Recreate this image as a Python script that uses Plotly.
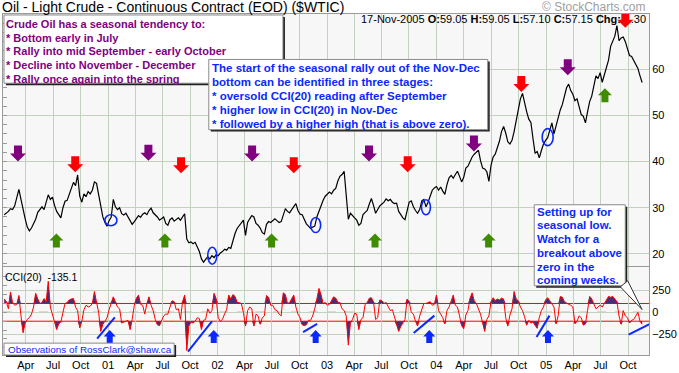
import plotly.graph_objects as go
import pandas as pd

# ---------------- data ----------------
dates = pd.date_range("2000-01-20", periods=305, freq="7D")

price = [
    28.5, 28.8, 29.2, 29.8, 29.6, 30.4, 32.5, 34.0, 31.8, 29.5,
    27.6, 25.8, 25.0, 25.6, 26.4, 27.5, 29.0, 29.7, 30.2, 29.6,
    31.5, 32.8, 31.8, 32.3, 30.5, 29.2, 28.5, 27.8, 30.0, 31.4,
    31.6, 33.0, 34.0, 35.5, 34.8, 37.1, 32.5, 31.2, 33.0, 32.4,
    33.5, 33.0, 33.8, 35.6, 35.3, 33.0, 30.2, 28.0, 26.8, 26.0,
    27.2, 28.0, 31.8, 30.2, 29.6, 30.0, 28.7, 28.4, 28.8, 28.0,
    27.2, 26.4, 27.0, 27.8, 28.3, 27.9, 28.6, 28.9, 28.5, 29.4,
    29.9, 28.9, 28.5, 28.0, 27.3, 27.6, 28.0, 26.6, 26.2, 27.4,
    27.8, 27.1, 27.4, 27.8, 27.3, 28.0, 28.7, 23.2, 22.4, 22.6,
    22.2, 22.5, 21.4, 20.5, 18.9, 18.2, 18.8, 19.4, 18.9, 19.6,
    19.2, 19.8, 19.6, 20.2, 20.5, 21.0, 20.8, 21.4, 21.2, 23.0,
    24.4, 25.5, 26.2, 26.8, 27.3, 24.0, 26.8, 27.6, 28.3, 28.0,
    26.6, 26.2, 25.6, 24.6, 24.3, 26.4, 27.0, 26.8, 27.3, 27.6,
    27.2, 26.8, 27.0, 28.6, 29.8, 29.2, 28.9, 29.6, 30.3, 30.9,
    29.4, 28.6, 28.5, 27.3, 26.5, 26.0, 25.5, 25.8, 26.0, 28.0,
    29.3, 30.2, 31.6, 32.5, 32.9, 33.4, 33.0, 33.8, 34.2, 35.8,
    36.8, 37.2, 37.9, 33.0, 27.5, 28.8, 28.2, 27.8, 27.3, 26.2,
    26.6, 28.5, 29.0, 29.4, 30.8, 32.0, 30.5, 28.8, 29.6, 30.4,
    30.8, 31.2, 31.9, 31.5, 31.8, 31.2, 30.9, 31.0, 29.2, 28.5,
    27.8, 27.4, 29.2, 31.2, 31.5, 30.2, 29.4, 28.8, 29.6, 31.5,
    31.8, 30.2, 31.2, 32.5, 33.8, 34.3, 34.6, 33.8, 34.5, 33.6,
    32.9, 35.0, 36.5, 37.0, 36.4, 37.2, 37.9, 36.8, 35.6, 36.6,
    38.6, 39.0, 40.0, 41.0, 41.6, 42.0, 42.5, 40.2, 38.6, 38.4,
    37.8, 35.7, 39.2, 41.0, 41.6, 43.0, 44.4, 46.5, 47.6, 46.2,
    44.3, 43.8, 44.6, 46.5, 49.0, 50.8, 53.6, 54.8, 52.4, 50.8,
    49.2, 48.5, 45.0, 41.8, 42.2, 40.8, 42.4, 43.8, 44.6, 45.2,
    46.8, 48.4, 46.0, 47.8, 49.6, 51.2, 52.4, 54.2, 56.0, 56.8,
    55.4, 54.6, 53.2, 53.6, 51.8, 50.2, 49.8, 48.4, 50.8, 53.0,
    54.2, 56.5, 58.6, 58.0, 59.3, 57.2, 59.0, 60.5, 62.0, 65.0,
    66.2, 67.2, 69.5, 66.2, 66.8, 67.0, 66.0, 64.5, 63.0, 62.8,
    62.0, 61.0, 60.2, 58.6, 57.15,
]

cci = [
    150, 120, 40, 230, 110, 80, 90, 190, -40, -230,
    -120, -80, -60, -20, 60, 215, 150, 100, 110, 155,
    120, 350, 60, -20, -100, -195, -130, -110, 0, 100,
    110, 140, 150, 155, 60, 20, -175, -100, 30, 80,
    60, 70, 100, 235, 115, 0, -215, -135, -100, -60,
    30, 115, 175, 120, 60, 40, -120, -110, -100, -90,
    -195, -80, 80, 160, 195, 90, 80, -20, 100, 175,
    80, 20, -80, -140, -150, -100, -40, -20, -20, 60,
    130, 120, 30, 40, -80, 120, 195, -430, -155, -110,
    -120, -100, -60, -70, -195, -90, -80, 40, -10, 20,
    215, 155, -60, -100, -80, -20, 30, 195, 150, 200,
    180, 115, 110, 100, 0, -155, 20, 60, 40, -155,
    -20, -40, -135, -60, -40, 190, 170, 80, 80, 30,
    20, -20, -40, 220, 200, 100, 110, 150, 195, 60,
    -20, -60, -140, -150, -140, -90, -90, -40, 40, 150,
    270, 200, 100, 110, 80, 90, 130, 175, 160, 115,
    110, 40, 20, -40, -370, -120, -80, -10, -20, -195,
    -80, -60, 90, 110, 160, 165, 120, -80, -60, 140,
    130, 100, 110, 60, 20, 30, -60, -150, -215, -160,
    -115, -80, 150, 120, 0, -20, -100, -155, -40, 40,
    100, 100, 110, 120, 80, 90, 195, 20, -20, -60,
    -130, 20, 60, 120, 195, 80, 60, -40, -150, -185,
    -30, 20, 160, 220, 130, 100, 40, -20, -120, -215,
    -80, -40, 120, 165, 130, 150, 140, 160, 150, -60,
    -155, -30, 40, 235, 150, 130, 60, 20, -50, -145,
    -90, -120, -110, -150, -180, -60, 20, 60, 140, 165,
    130, 100, 60, -130, -40, 180, 170, 120, 100, 90,
    80, 60, -130, -100, -40, -60, -145, -130, 20, 180,
    150, 100, 40, 60, 80, 60, 100, 140, 180, 170,
    180, 150, 120, -40, -135, 20, -40, -60, -120, -90,
    -80, -40, 0, -100, -135.1,
]

quarter_ticks = pd.date_range("2000-04-01", "2005-10-01", freq="QS")
tick_labels = ["Apr", "Jul", "Oct",
               "01", "Apr", "Jul", "Oct",
               "02", "Apr", "Jul", "Oct",
               "03", "Apr", "Jul", "Oct",
               "04", "Apr", "Jul", "Oct",
               "05", "Apr", "Jul", "Oct"]
price_ticks = [20, 30, 40, 50, 60]
cci_ticks = [-250, 0, 250]
cci_bands = [100, -100]

# seasonal markers (date, price level of the arrow tip)
purple_dates = ["2000-03-06", "2001-05-15", "2002-04-26", "2003-05-21", "2004-05-05", "2005-03-14"]
purple_levels = [40.0, 40.2, 40.0, 40.0, 42.2, 58.7]
red_dates = ["2000-09-13", "2001-09-01", "2002-09-12", "2003-09-27", "2004-10-10", "2005-09-22"]
red_levels = [37.7, 37.5, 37.5, 37.7, 55.1, 69.0]
green_dates = ["2000-07-12", "2001-07-09", "2002-06-30", "2003-06-10", "2004-06-23", "2005-07-16"]
green_levels = [24.4, 24.4, 24.4, 24.4, 24.4, 55.9]
circle_dates = ["2001-01-10", "2001-12-14", "2002-11-24", "2003-11-27", "2005-01-06"]
circle_levels = [27.3, 19.6, 26.25, 30.1, 45.3]
blue_arrow_dates = ["2001-01-06", "2001-12-19", "2002-11-24", "2003-12-08", "2005-01-07"]
blue_arrow_levels = [-200, -200, -200, -200, -200]
trend_start_dates = ["2000-11-25", "2001-09-24", "2002-10-13", "2003-10-17", "2004-11-30", "2005-10-03"]
trend_start_levels = [-297, -444, -222, -233, -278, -252]
trend_end_dates = ["2001-01-23", "2001-12-13", "2002-11-29", "2003-12-25", "2005-01-12", "2005-12-13"]
trend_end_levels = [-56, -103, -130, -37, -37, -130]

# ---------------- styling ----------------
FONT = "Arial, 'Liberation Sans', sans-serif"
GRID = "#c3d2bf"
BORDER = "#9a9a9a"
PLOT_BG = "#f7f7f7"
PURPLE = "#800080"
RED = "#ff0000"
GREEN = "#3f8c00"
BLUE = "#0a28ff"
X_RANGE = ["2000-01-16", "2005-12-10"]
Y_RANGE = [17.36, 72.0]
CCI_RANGE = [-481, 511]

W, H = 679, 373
L, R, T, B = 2, 24, 14, 14
PW, PH = W - L - R, H - T - B


def fx(p):
    return (p - L) / PW


def fy(p):
    return (H - B - p) / PH


fig = go.Figure()

# price
fig.add_trace(go.Scatter(x=dates, y=price, mode="lines", line=dict(color="black", width=1.2),
                         xaxis="x", yaxis="y", hoverinfo="skip"))
# dummy traces for inner minor-tick axes
fig.add_trace(go.Scatter(x=[dates[0]], y=[price[0]], mode="markers", marker=dict(opacity=0),
                         xaxis="x", yaxis="y3", hoverinfo="skip"))
fig.add_trace(go.Scatter(x=[dates[0]], y=[cci[0]], mode="markers", marker=dict(opacity=0),
                         xaxis="x2", yaxis="y4", hoverinfo="skip"))

# OHLC header text (as trace so arrow shapes can overlap it)
fig.add_trace(go.Scatter(
    x=["2005-11-30"], y=[70.7], mode="text",
    text=["17-Nov-2005 <b>O:</b>59.05 <b>H:</b>59.05 <b>L:</b>57.10 <b>C:</b>57.15 <b>Chg:</b>-1.30"],
    textposition="middle left", textfont=dict(family=FONT, size=11, color="black"),
    xaxis="x", yaxis="y", hoverinfo="skip", cliponaxis=False))

# CCI fills beyond +/-100
hi = [max(v, cci_bands[0]) for v in cci]
lo = [min(v, cci_bands[1]) for v in cci]
FILL = "#4a2c78"
fig.add_trace(go.Scatter(x=dates, y=[cci_bands[0]] * len(dates), mode="lines", line=dict(width=0),
                         xaxis="x2", yaxis="y2", hoverinfo="skip"))
fig.add_trace(go.Scatter(x=dates, y=hi, mode="lines", line=dict(width=0), fill="tonexty",
                         fillcolor=FILL, xaxis="x2", yaxis="y2", hoverinfo="skip"))
fig.add_trace(go.Scatter(x=dates, y=[cci_bands[1]] * len(dates), mode="lines", line=dict(width=0),
                         xaxis="x2", yaxis="y2", hoverinfo="skip"))
fig.add_trace(go.Scatter(x=dates, y=lo, mode="lines", line=dict(width=0), fill="tonexty",
                         fillcolor=FILL, xaxis="x2", yaxis="y2", hoverinfo="skip"))
fig.add_trace(go.Scatter(x=dates, y=cci, mode="lines", line=dict(color=RED, width=1),
                         xaxis="x2", yaxis="y2", hoverinfo="skip"))

shapes = []
# CCI reference lines
for lvl in cci_bands:
    shapes.append(dict(type="line", xref="x2 domain", x0=0, x1=1, yref="y2", y0=lvl, y1=lvl,
                       line=dict(color=RED, width=1), layer="below"))
shapes.append(dict(type="line", xref="x2 domain", x0=0, x1=1, yref="y2", y0=0, y1=0,
                   line=dict(color=RED, width=1, dash="dash"), layer="below"))


def arrow_path(w, h, down=True):
    half, sh, hh = w / 2, w / 4, h / 2
    s = 1 if down else -1
    pts = [(0, 0), (-half, s * hh), (-sh, s * hh), (-sh, s * h), (sh, s * h), (sh, s * hh), (half, s * hh)]
    return "M " + " L ".join(f"{a} {b}" for a, b in pts) + " Z"


def add_arrow(d, lvl, color, down, w, h, xr="x", yr="y"):
    shapes.append(dict(type="path", xref=xr, yref=yr, xsizemode="pixel", ysizemode="pixel",
                       xanchor=d, yanchor=lvl, path=arrow_path(w, h, down),
                       fillcolor=color, line=dict(width=0), layer="above"))


for d, v in zip(purple_dates, purple_levels):
    add_arrow(d, v, PURPLE, True, 16, 16)
for d, v in zip(red_dates, red_levels):
    add_arrow(d, v, RED, True, 16, 16)
for d, v in zip(green_dates, green_levels):
    add_arrow(d, v, GREEN, False, 14, 14)
for d, v in zip(blue_arrow_dates, blue_arrow_levels):
    add_arrow(d, v, BLUE, False, 12, 13, "x2", "y2")

circle_w = [12, 9, 10, 9, 11]
circle_h = [11, 17, 15, 15, 17]
for d, v, cw, ch in zip(circle_dates, circle_levels, circle_w, circle_h):
    shapes.append(dict(type="circle", xref="x", yref="y", xsizemode="pixel", ysizemode="pixel",
                       xanchor=d, yanchor=v, x0=-cw / 2, x1=cw / 2, y0=-ch / 2, y1=ch / 2,
                       line=dict(color=BLUE, width=1.6), layer="above"))

for d0, v0, d1, v1 in zip(trend_start_dates, trend_start_levels, trend_end_dates, trend_end_levels):
    shapes.append(dict(type="line", xref="x2", yref="y2", x0=d0, y0=v0, x1=d1, y1=v1,
                       line=dict(color=BLUE, width=2), layer="above"))


def box(x0, y0, x1, y1):
    shapes.append(dict(type="rect", xref="paper", yref="paper", x0=fx(x0 + 2), x1=fx(x1 + 2),
                       y0=fy(y0 + 2), y1=fy(y1 + 2), fillcolor="#202020", line=dict(width=0),
                       layer="above"))
    shapes.append(dict(type="rect", xref="paper", yref="paper", x0=fx(x0), x1=fx(x1),
                       y0=fy(y0), y1=fy(y1), fillcolor="white", line=dict(color="#8a8a8a", width=1),
                       layer="above"))


box(3, 15, 285, 84)
box(210, 60, 492, 131)
box(539, 207, 631, 289)
# callout pointer
shapes.append(dict(type="path", xref="paper", yref="paper",
                   path=f"M {fx(626)} {fy(290)} L {fx(648)} {fy(313)} L {fx(633.5)} {fy(284)} Z",
                   fillcolor="white", line=dict(color="#303030", width=1), layer="above"))
box(3, 347, 175, 359)

ann = []


def text(x, y, s, size, color, bold=False, anchor="left"):
    ann.append(dict(x=fx(x), y=fy(y), xref="paper", yref="paper", text=f"<b>{s}</b>" if bold else s,
                    showarrow=False, xanchor=anchor, yanchor="middle",
                    font=dict(family=FONT, size=size, color=color)))


text(-1, 7, "Oil - Light Crude - Continuous Contract (EOD) ($WTIC)", 14, "black")
text(654, 7, "© StockCharts.com", 12, "#a0a0a0", anchor="right")

box1 = ["Crude Oil has a seasonal tendency to:", "* Bottom early in July",
        "* Rally into mid September - early October", "* Decline into November - December",
        "* Rally once again into the spring"]
for i, s in enumerate(box1):
    text(3.5, 24 + 13.9 * i, s, 11, PURPLE, bold=True)

box2 = ["The start of the seasonal rally out of the Nov-Dec", "bottom can be identified in three stages:",
        "* oversold CCI(20) reading after September", "* higher low in CCI(20) in Nov-Dec",
        "* followed by a higher high (that is above zero)."]
for i, s in enumerate(box2):
    text(211, 69 + 14 * i, s, 11.5, BLUE, bold=True)

box3 = ["Setting up for", "seasonal low.", "Watch for a", "breakout above", "zero in the", "coming weeks."]
for i, s in enumerate(box3):
    text(539.5, 214 + 13.9 * i, s, 11.5, BLUE, bold=True)

text(2.5, 280, "CCI(20)  -135.1", 10.5, "black")
text(5, 353.5, "Observations of RossClark@shaw.ca", 9.9, BLUE)

axis_common = dict(showline=True, mirror=True, linecolor=BORDER, linewidth=1, zeroline=False,
                   showgrid=True, gridcolor=GRID, gridwidth=1, fixedrange=True)

fig.update_layout(
    width=W, height=H, autosize=False,
    margin=dict(l=L, r=R, t=T, b=B, pad=0),
    paper_bgcolor="white", plot_bgcolor=PLOT_BG,
    showlegend=False, hovermode=False,
    font=dict(family=FONT, size=11, color="black"),
    xaxis=dict(domain=[0, 1], anchor="y", type="date", range=X_RANGE, tickmode="array",
               tickvals=quarter_ticks, showticklabels=False, ticks="", **axis_common),
    yaxis=dict(domain=[0.2609, 1], anchor="x", range=Y_RANGE, side="right", tickmode="array",
               tickvals=price_ticks, ticks="", tickfont=dict(size=11), **axis_common),
    yaxis3=dict(overlaying="y", anchor="x", side="left", range=Y_RANGE, tick0=0, dtick=2,
                ticks="inside", ticklen=4, tickcolor=BORDER, showticklabels=False, showgrid=False,
                showline=False, zeroline=False, fixedrange=True),
    xaxis2=dict(domain=[0, 1], anchor="y2", type="date", range=X_RANGE, tickmode="array",
                tickvals=quarter_ticks, ticktext=tick_labels, ticks="",
                tickfont=dict(size=11), **axis_common),
    yaxis2=dict(domain=[0, 0.258], anchor="x2", range=CCI_RANGE, side="right", tickmode="array",
                tickvals=cci_ticks, ticks="", tickfont=dict(size=11), **axis_common),
    yaxis4=dict(overlaying="y2", anchor="x2", side="left", range=CCI_RANGE, tick0=0, dtick=100,
                ticks="inside", ticklen=4, tickcolor=BORDER, showticklabels=False, showgrid=False,
                showline=False, zeroline=False, fixedrange=True),
    shapes=shapes,
    annotations=ann,
)

fig.write_html("out.html", config={"displayModeBar": False},
               post_script="document.body.style.margin='0px';document.body.style.padding='0px';")
